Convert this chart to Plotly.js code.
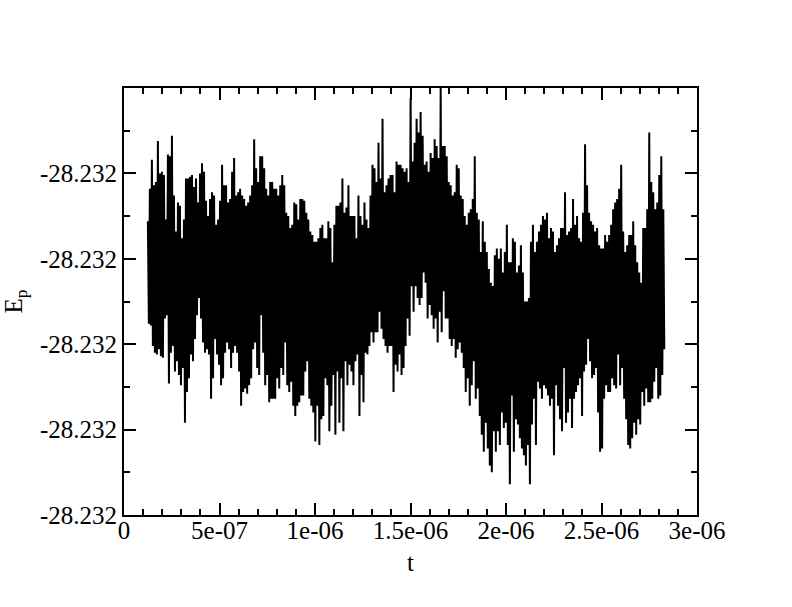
<!DOCTYPE html>
<html>
<head>
<meta charset="utf-8">
<script src="https://cdn.plot.ly/plotly-3.0.1.min.js"></script>
<style>
  html, body { margin: 0; padding: 0; background: #ffffff; }
  #chart { width: 792px; height: 607px; }
</style>
</head>
<body>
<div id="chart"></div>
<script>
// Potential energy E_p versus time t.
// Values stored as offsets from E0 in units of 1e-6 (E = E0 + offset*1e-6).
// Each sample column holds the local maximum and minimum.
const E0 = -28.232;
const tStart = 1.25e-7;     // first sample time
const tColStep = 1.05e-8;   // time between sample columns

const epHighA = [122,141,158,143,145,169,150,151,149,123,161,160,172,137,116,133,131,112,123,147,147,148,149,142,147,133,150,156,151,134,125,135,139,137,120,123,134,155,143,143];
const epLowA  = [62,61,49,45,44,47,43,42,65,67,27,45,49,34,40,32,26,36,4,22,30,44,40,53,67,77,65,51,45,47,44,18,30,53,44,38,26,30,45,51];

const epHighB = [133,135,151,159,137,139,141,137,135,131,133,137,143,170,153,145,160,160,153,141,137,145,145,141,141,137,143,149,143,127,125,118,120,133,132,123,135,135,134,127,123,116,114,110];
const epLowB  = [47,36,45,49,45,34,14,22,24,21,26,30,47,51,36,32,67,45,26,32,16,18,18,18,30,24,36,32,51,26,22,28,14,8,14,16,20,20,34,40,18,14,10,-7];

const epHighC = [110,112,118,120,112,112,122,118,98,120,131,131,133,147,127,130,143,125,125,125,112,137,125,120,133,123,118,137,155,153,145,168,147,182,139,143,147,149,149,139,157,155,155,153];
const epLowC  = [14,-9,6,8,30,26,-1,14,32,-3,34,4,30,-1,40,26,38,34,26,40,44,8,32,16,45,44,49,57,51,57,57,69,59,53,49,45,49,49,22,38,34,44,32,36];

const epHighD = [151,153,145,194,157,168,182,174,186,172,155,157,151,162,159,170,166,159,200,166,166,160,145,143,137,139,155,153,137,135,125,120,127,129,135,160,127,123,104,122,110,104,94,86];
const epLowD  = [49,65,55,84,69,84,77,73,77,92,86,65,73,67,59,65,51,69,57,81,65,65,53,49,53,42,47,51,45,36,22,30,14,26,40,18,24,8,-3,-13,4,-11,-21,-25];

const epHighE = [84,102,106,100,106,92,104,120,98,98,112,110,92,96,108,92,75,75,77,110,120,104,110,116,120,125,123,127,112,118,116,104,108,112,118,118,139,114,116,118,135,120,125,112];
const epLowE  = [-1,-13,-1,-9,10,1,4,-9,-32,20,-13,6,3,-5,-11,-15,-21,-9,-32,3,18,-9,28,24,18,26,24,20,14,18,-15,26,14,6,-1,36,4,10,18,1,18,22,26,30];

const epHighF = [110,127,167,143,127,122,120,116,118,108,106,106,114,110,114,120,129,133,135,141,155,116,104,108,114,114,122,108,98,92,86,118,118,129,174,145,139,129,133,149,160,129];
const epLowF  = [8,34,38,53,40,30,32,36,10,-13,-11,18,26,22,22,30,26,24,44,26,36,18,6,-9,-11,-5,4,-3,6,3,22,14,24,16,16,18,28,36,18,20,32,47];

const xTickVals = [0, 5e-7, 1e-6, 1.5e-6, 2e-6, 2.5e-6, 3e-6];
const xTickText = ["0", "5e-07", "1e-06", "1.5e-06", "2e-06", "2.5e-06", "3e-06"];
const yTickVals = [-28.23205, -28.23200, -28.23195, -28.23190, -28.23185];
const yTickText = ["-28.232", "-28.232", "-28.232", "-28.232", "-28.232"];

const epHigh = [].concat(epHighA, epHighB, epHighC, epHighD, epHighE, epHighF);
const epLow  = [].concat(epLowA, epLowB, epLowC, epLowD, epLowE, epLowF);

const tx = [], ey = [];
for (let k = 0; k < epHigh.length; k++) {
  const t = tStart + k * tColStep;
  tx.push(t);               ey.push(E0 + epHigh[k] * 1e-6);
  tx.push(t + tColStep / 2); ey.push(E0 + epLow[k] * 1e-6);
}

const font = { family: "'Liberation Serif', 'Times New Roman', 'DejaVu Serif', serif", size: 25, color: "#000000" };

const trace = {
  type: "scatter",
  mode: "lines",
  x: tx,
  y: ey,
  line: { color: "#000000", width: 2 },
  hoverinfo: "skip"
};

const axisCommon = {
  showline: true,
  linecolor: "#000000",
  linewidth: 2,
  mirror: "ticks",
  ticks: "inside",
  ticklen: 12,
  tickwidth: 2,
  tickcolor: "#000000",
  showgrid: false,
  zeroline: false,
  tickfont: font,
  fixedrange: true
};

const layout = {
  width: 792,
  height: 607,
  margin: { l: 124, r: 95, t: 88, b: 92, pad: 0 },
  paper_bgcolor: "#ffffff",
  plot_bgcolor: "#ffffff",
  showlegend: false,
  font: font,
  xaxis: Object.assign({}, axisCommon, {
    range: [0, 3e-6],
    tickmode: "array",
    tickvals: xTickVals,
    ticktext: xTickText,
    ticklabelstandoff: -8,
    minor: { tickmode: "linear", tick0: 0, dtick: 1e-7, ticks: "inside", ticklen: 6, tickwidth: 2, tickcolor: "#000000", showgrid: false },
    title: { text: "t", font: font, standoff: 10 }
  }),
  yaxis: Object.assign({}, axisCommon, {
    range: [-28.23205, -28.23180],
    tickmode: "array",
    tickvals: yTickVals,
    ticktext: yTickText,
    minor: { tickmode: "linear", tick0: -28.23205, dtick: 2.5e-5, ticks: "inside", ticklen: 6, tickwidth: 2, tickcolor: "#000000", showgrid: false },
    title: { text: "E<sub>p</sub>", font: font, standoff: 21 }
  })
};

Plotly.newPlot("chart", [trace], layout, { displayModeBar: false, staticPlot: true });
</script>
</body>
</html>
